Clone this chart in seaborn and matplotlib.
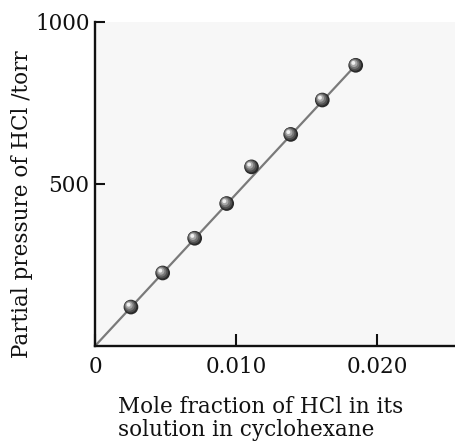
import numpy as np
import matplotlib
matplotlib.use("Agg")
import matplotlib.pyplot as plt
from matplotlib.transforms import offset_copy
import seaborn as sns

# Data (Henry's law: HCl in cyclohexane)
mole_fraction = [0.00255, 0.0048, 0.00707, 0.00934, 0.0111, 0.01388, 0.01612, 0.01849]
pressure_torr = [120, 225, 332, 439, 552, 652, 758, 865]

# straight-line fit through the origin, drawn up to the last point
fit_x = [0.0, 0.0185]
fit_y = [0.0, 866.0]

x_ticks = [0.0, 0.010, 0.020]
x_ticklabels = ["0", "0.010", "0.020"]
y_ticks = [500, 1000]
y_ticklabels = ["500", "1000"]

sns.set_style("white")
plt.rcParams["font.family"] = ["DejaVu Serif"]

fig = plt.figure(figsize=(4.55, 4.43), dpi=100)
ax = fig.add_axes([95 / 455, 97 / 443, 360 / 455, 324.5 / 443])
ax.set_facecolor("#f7f7f7")

sns.lineplot(x=fit_x, y=fit_y, ax=ax, color="#7a7a7a", linewidth=1.6, zorder=2)

# shaded "sphere" markers: dark base + lighter layers shifted up-left
layers = [
    (112, "#2a2a2a", 0.0),
    (78, "#4f4f4f", 0.5),
    (50, "#767676", 0.9),
    (26, "#a8a8a8", 1.3),
    (8, "#f0f0f0", 1.7),
]
for size, col, off in layers:
    tr = offset_copy(ax.transData, fig=fig, x=-off, y=off, units="points")
    sns.scatterplot(x=mole_fraction, y=pressure_torr, ax=ax, s=size, color=col,
                    edgecolor="none", linewidth=0, transform=tr, zorder=3, legend=False)

ax.set_xlim(0, 0.02553)
ax.set_ylim(0, 1000)
ax.set_xticks(x_ticks)
ax.set_xticklabels(x_ticklabels)
ax.set_yticks(y_ticks)
ax.set_yticklabels(y_ticklabels)
ax.tick_params(axis="x", bottom=True, direction="in", length=9, width=1.5, labelsize=15.5, pad=7, colors="#111111")
ax.tick_params(axis="y", left=True, direction="in", length=7.5, width=1.5, labelsize=15.5, pad=4, colors="#111111")

for side in ["top", "right"]:
    ax.spines[side].set_visible(False)
for side in ["left", "bottom"]:
    ax.spines[side].set_linewidth(1.7)
    ax.spines[side].set_color("#111111")

ax.set_xlabel("")
ax.set_ylabel("")
fig.text(22 / 455, 1 - 204 / 443, "Partial pressure of HCl /torr", rotation=90,
         ha="center", va="center", fontsize=15.5, color="#111111")
fig.text(118 / 455, 1 - 396 / 443, "Mole fraction of HCl in its\nsolution in cyclohexane",
         ha="left", va="top", fontsize=15.5, color="#111111", linespacing=1.05)

fig.savefig("out.png", dpi=100)
